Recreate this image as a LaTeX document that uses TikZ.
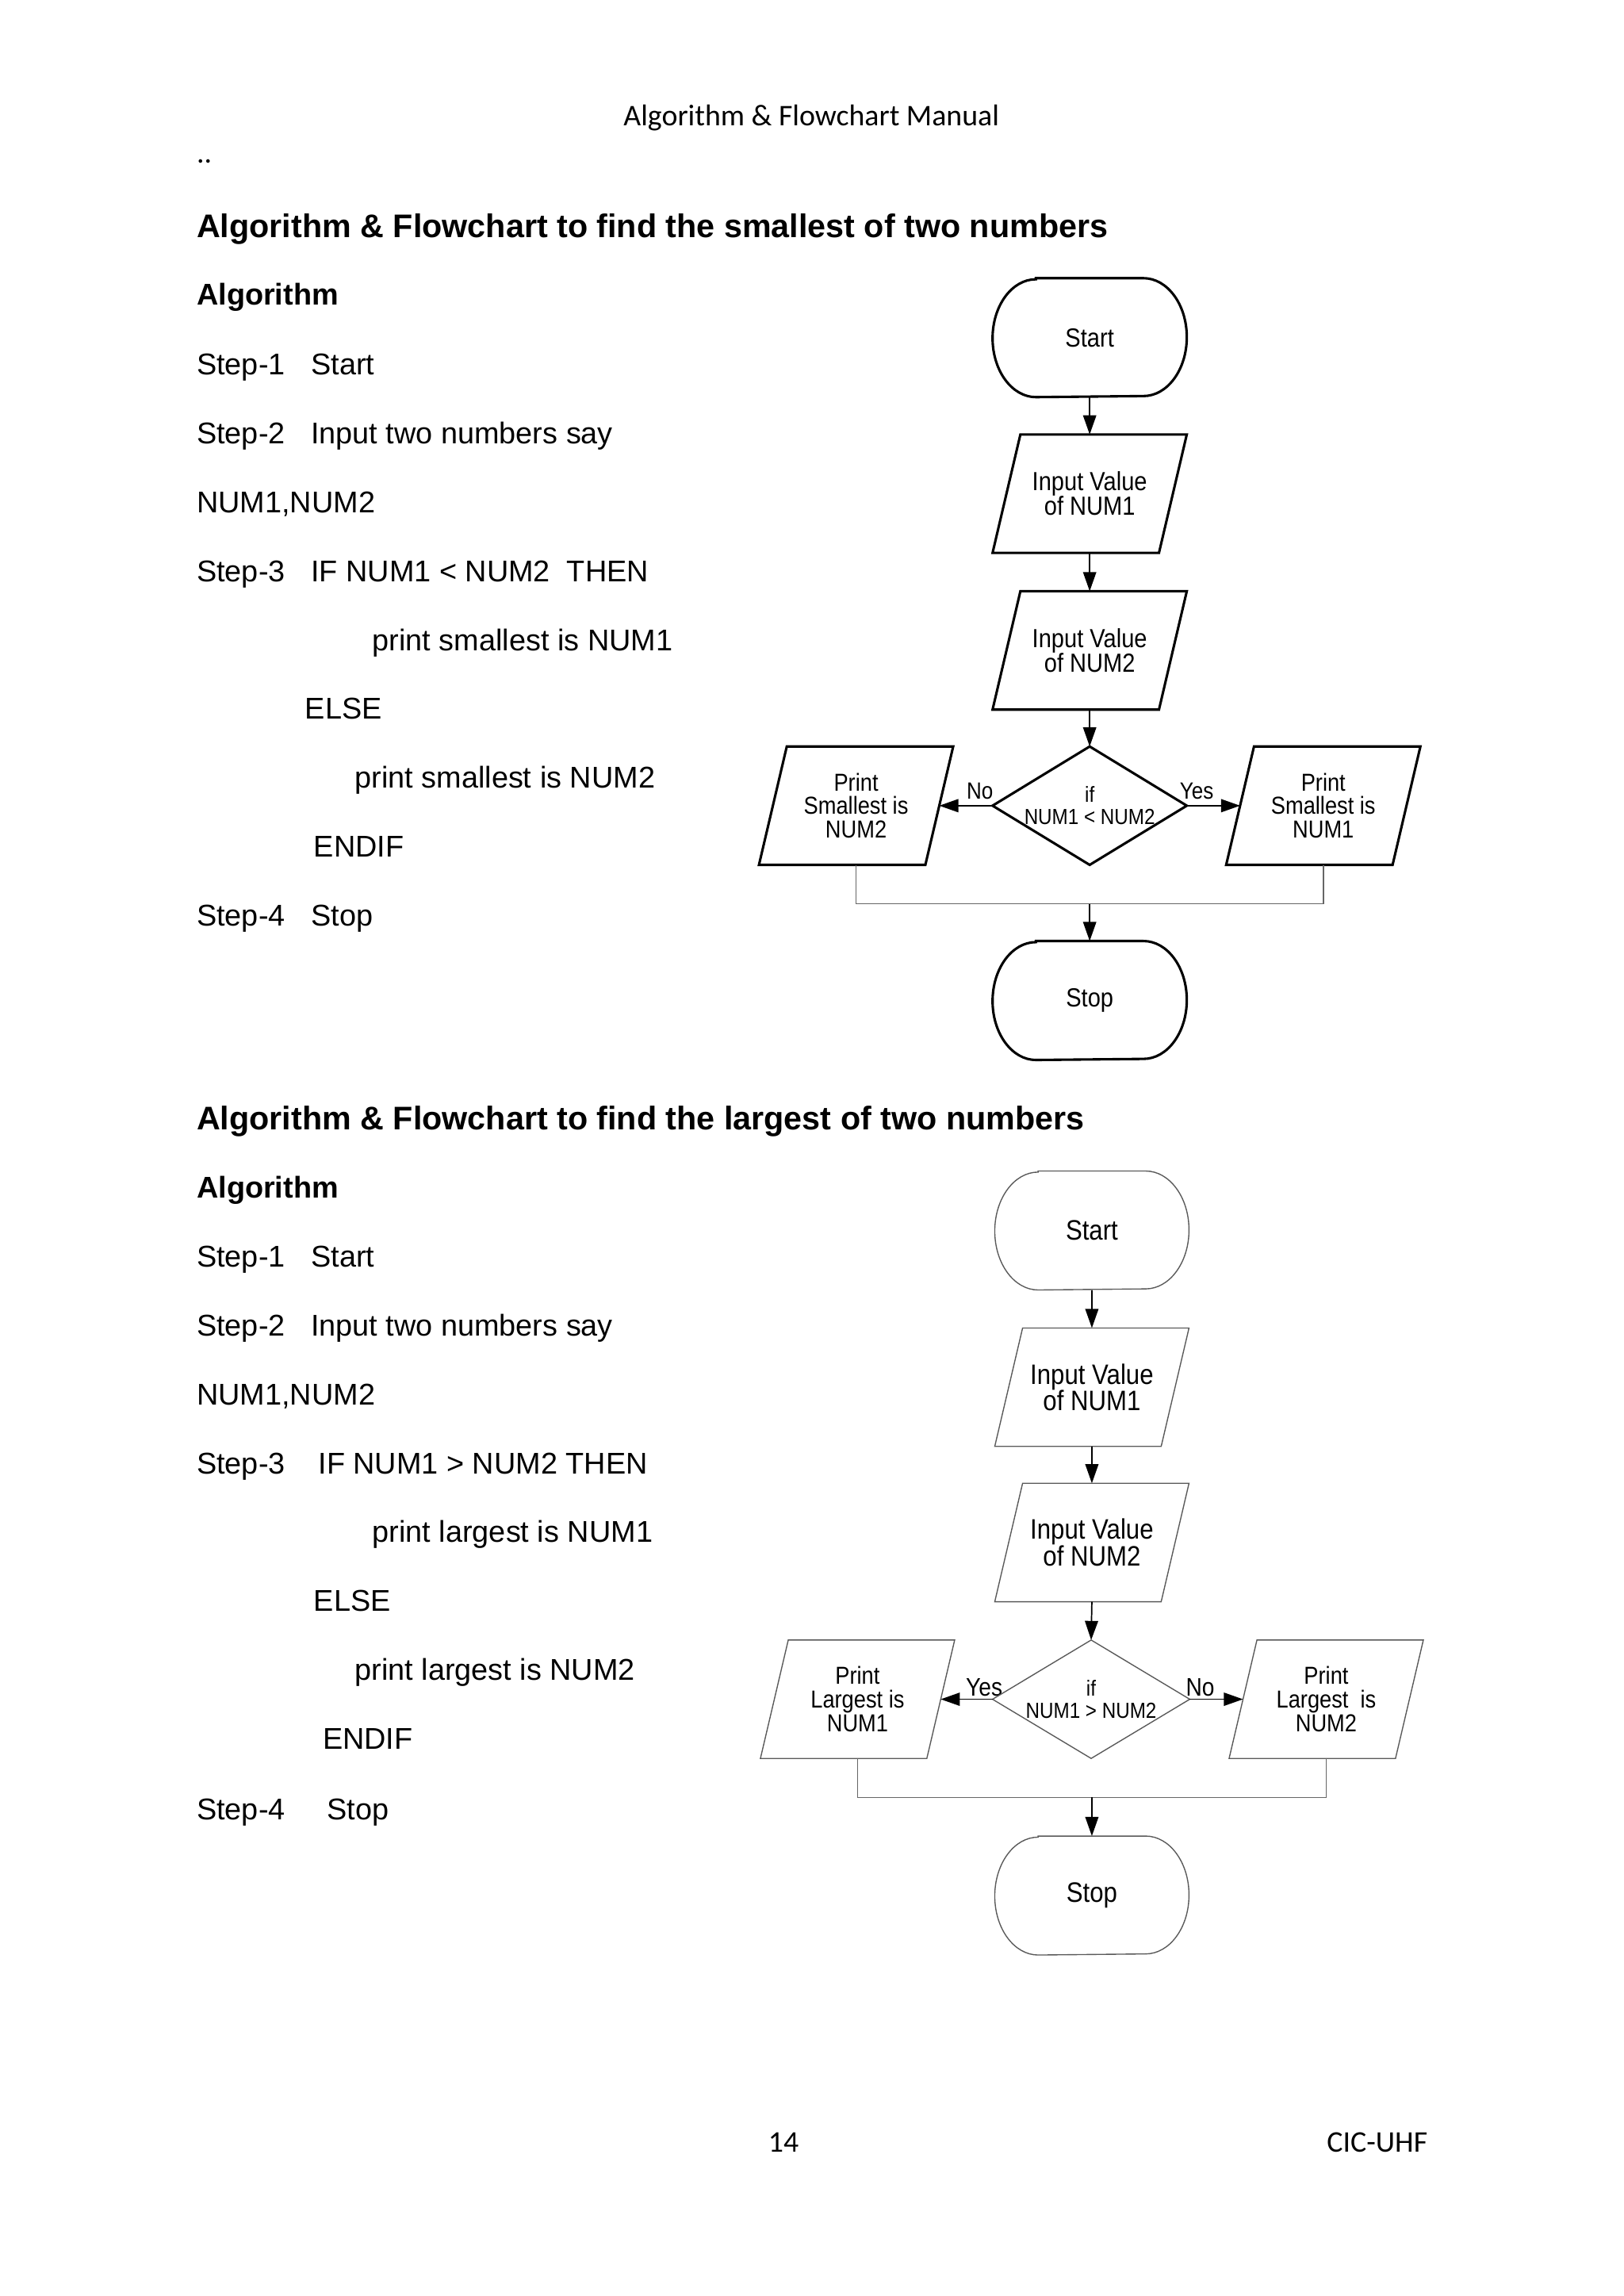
\documentclass[tikz,border=0pt]{standalone}
\usepackage{fontspec}
\setmainfont{Carlito}
\newfontfamily\arialf{Liberation Sans}
\newfontfamily\narrowf[FakeStretch=0.88]{Liberation Sans}
\usetikzlibrary{arrows.meta}

\tikzset{
 txt/.style={anchor=base west, inner sep=0pt, font=\arialf\fontsize{11}{13}\selectfont},
 ttl/.style={anchor=base west, inner sep=0pt, font=\arialf\bfseries\fontsize{12}{14}\selectfont},
 hdr/.style={anchor=base, inner sep=0pt, font=\fontsize{11}{13}\selectfont},
 termbox/.style={rectangle, inner sep=0pt, minimum width=70.8pt, minimum height=43.2pt, align=center, font=\narrowf\fontsize{9.6}{9.1}\selectfont},
 parabox/.style={rectangle, inner sep=0pt, minimum width=70.8pt, minimum height=43pt, align=center, font=\narrowf\fontsize{9.6}{9.1}\selectfont},
 printbox/.style={parabox, font=\narrowf\fontsize{9}{8.7}\selectfont},
 bigtxt/.style={font=\narrowf\fontsize{10.3}{9.7}\selectfont},
 decbox/.style={rectangle, inner sep=0pt, minimum width=70.8pt, minimum height=43pt, align=center, font=\narrowf\fontsize{8}{8.1}\selectfont},
 lbl/.style={inner sep=0pt, font=\narrowf\fontsize{8.6}{9}\selectfont},
 lblb/.style={inner sep=0pt, font=\narrowf\fontsize{9.3}{10}\selectfont},
 shpA/.style={draw=black, line width=0.9pt, line join=miter},
 shpB/.style={draw=black!65, line width=0.4pt},
 arr/.style={draw=black, line width=0.5pt, -{Triangle[length=7pt,width=4.8pt]}},
 mrg/.style={draw=black!60, line width=0.45pt},
}

\newcommand\drawterm[2]{\draw[#1] ([xshift=15.9pt]#2.north west) -- ([xshift=-15.9pt]#2.north east) arc[start angle=90,end angle=-90,x radius=15.9pt,y radius=21.6pt] -- ([xshift=15.9pt]#2.south west) arc[start angle=270,end angle=90,x radius=15.9pt,y radius=21.6pt] -- cycle;}
\newcommand\drawpara[2]{\draw[#1] ([xshift=10.2pt]#2.north west) -- (#2.north east) -- ([xshift=-10.2pt]#2.south east) -- (#2.south west) -- cycle;}
\newcommand\drawdiam[2]{\draw[#1] (#2.north) -- (#2.east) -- (#2.south) -- (#2.west) -- cycle;}

\begin{document}
\begin{tikzpicture}[x=0.5369pt,y=-0.5369pt]
\fill[white] (0,0) rectangle (1108.8,1567.4);
\useasboundingbox (0,0) rectangle (1108.8,1567.4);

% header / footer
\node[hdr] (hd) at (554,86) {Algorithm \& Flowchart Manual};
\node[anchor=base west, inner sep=0pt, font=\fontsize{11}{13}\selectfont] (dd) at (134,111) {..};
\node[hdr] (pg) at (535,1469) {14};
\node[anchor=base east, inner sep=0pt, font=\fontsize{11}{13}\selectfont] (ft) at (975,1469) {CIC-UHF};

% ---------- section 1 text ----------
\node[ttl] (t1) at (134,162) {Algorithm \& Flowchart to find the smallest of two numbers};
\node[ttl, font=\arialf\bfseries\fontsize{11}{13}\selectfont] (a1) at (134,208) {Algorithm};
\node[txt] (a1s1) at (134,256) {Step-1};
\node[txt] (a1s1b) at (212,256) {Start};
\node[txt] (a1s2) at (134,303) {Step-2};
\node[txt] (a1s2b) at (212,303) {Input two numbers say};
\node[txt] (a1n) at (134,350) {NUM1,NUM2};
\node[txt] (a1s3) at (134,397) {Step-3};
\node[txt] (a1s3b) at (212,397) {IF NUM1 < NUM2\ \ THEN};
\node[txt] (a1p1) at (254,444) {print smallest is NUM1};
\node[txt] (a1el) at (208,491) {ELSE};
\node[txt] (a1p2) at (242,538) {print smallest is NUM2};
\node[txt] (a1ei) at (214,585) {ENDIF};
\node[txt] (a1s4) at (134,632) {Step-4};
\node[txt] (a1s4b) at (212,632) {Stop};

% ---------- section 2 text ----------
\node[ttl] (t2) at (134,771) {Algorithm \& Flowchart to find the largest of two numbers};
\node[ttl, font=\arialf\bfseries\fontsize{11}{13}\selectfont] (a2) at (134,818) {Algorithm};
\node[txt] (a2s1) at (134,865) {Step-1};
\node[txt] (a2s1b) at (212,865) {Start};
\node[txt] (a2s2) at (134,912) {Step-2};
\node[txt] (a2s2b) at (212,912) {Input two numbers say};
\node[txt] (a2n) at (134,959) {NUM1,NUM2};
\node[txt] (a2s3) at (134,1006) {Step-3};
\node[txt] (a2s3b) at (217,1006) {IF NUM1 > NUM2 THEN};
\node[txt] (a2p1) at (254,1053) {print largest is NUM1};
\node[txt] (a2el) at (214,1100) {ELSE};
\node[txt] (a2p2) at (242,1147) {print largest is NUM2};
\node[txt] (a2ei) at (220,1194) {ENDIF};
\node[txt] (a2s4) at (134,1242) {Step-4};
\node[txt] (a2s4b) at (223,1242) {Stop};

% ---------- flowchart 1 ----------
\node[termbox] (s1) at (744,230.5) {Start};
\node[parabox] (i1) at (744,337) {Input Value\\of NUM1};
\node[parabox] (i2) at (744,444) {Input Value\\of NUM2};
\node[decbox] (d1) at (744,550) {if\\NUM1 < NUM2};
\node[printbox] (pl1) at (584.5,550) {Print\\Smallest is\\NUM2};
\node[printbox] (pr1) at (903.5,550) {Print\\Smallest is\\NUM1};
\node[termbox] (e1) at (744,683) {Stop};
\coordinate (m1) at (744,617);
\node[lbl] (no1) at (669,540) {No};
\node[lbl] (ye1) at (817,540) {Yes};

\drawterm{shpA}{s1}
\drawpara{shpA}{i1}
\drawpara{shpA}{i2}
\drawdiam{shpA}{d1}
\drawpara{shpA}{pl1}
\drawpara{shpA}{pr1}
\drawterm{shpA}{e1}

\draw[arr] (s1.south) -- (i1.north);
\draw[arr] (i1.south) -- (i2.north);
\draw[arr] (i2.south) -- (d1.north);
\draw[arr] (d1.west) -- ([xshift=-5.1pt]pl1.east);
\draw[arr] (d1.east) -- ([xshift=5.1pt]pr1.west);
\draw[mrg] (pl1.south) |- (m1) -| (pr1.south);
\draw[arr] (m1) -- (e1.north);

% ---------- flowchart 2 ----------
\node[termbox, bigtxt] (s2) at (745.5,840) {Start};
\node[parabox, bigtxt] (i3) at (745.5,947) {Input Value\\of NUM1};
\node[parabox, bigtxt] (i4) at (745.5,1053) {Input Value\\of NUM2};
\node[decbox, minimum width=71.9pt] (d2) at (745,1160) {if\\NUM1 > NUM2};
\node[printbox] (pl2) at (585.5,1160) {Print\\Largest is\\NUM1};
\node[printbox] (pr2) at (905.5,1160) {Print\\Largest\ \ is\\NUM2};
\node[termbox, bigtxt] (e2) at (745.5,1294) {Stop};
\coordinate (m2) at (745.5,1227);
\node[lblb] (ye2) at (672,1152) {Yes};
\node[lblb] (no2) at (819.5,1152) {No};

\drawterm{shpB}{s2}
\drawpara{shpB}{i3}
\drawpara{shpB}{i4}
\drawdiam{shpB}{d2}
\drawpara{shpB}{pl2}
\drawpara{shpB}{pr2}
\drawterm{shpB}{e2}

\draw[arr] (s2.south) -- (i3.north);
\draw[arr] (i3.south) -- (i4.north);
\draw[arr] (i4.south) -- (d2.north);
\draw[arr] (d2.west) -- ([xshift=-5.1pt]pl2.east);
\draw[arr] (d2.east) -- ([xshift=5.1pt]pr2.west);
\draw[mrg] (pl2.south) |- (m2) -| (pr2.south);
\draw[arr] (m2) -- (e2.north);
\end{tikzpicture}
\end{document}
